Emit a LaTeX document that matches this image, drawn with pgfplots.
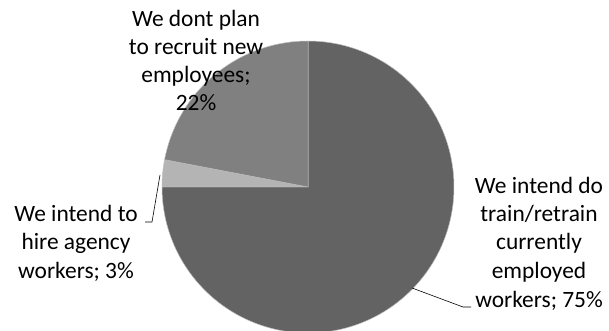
\documentclass[border=0pt]{standalone}
\usepackage{pgfplots}
\pgfplotsset{compat=1.18}
\usepackage{fontspec}
\setmainfont{Carlito}
\definecolor{pieDark}{HTML}{636363}
\definecolor{pieMid}{HTML}{808080}
\definecolor{pieLight}{HTML}{B4B4B4}
\definecolor{pieEdge}{HTML}{BEBEBE}
% shares (percent): trained staff, agency workers, no recruitment
\def\shareA{75}
\def\shareB{3}
\def\shareC{22}
\begin{document}
\begin{tikzpicture}
\begin{axis}[at={(0,0)}, anchor=south west, scale only axis,
  width=609bp, height=331bp, xmin=0, xmax=609, ymin=0, ymax=331,
  hide axis, clip=false]
\pgfmathsetmacro{\aA}{90}
\pgfmathsetmacro{\aB}{90-3.6*\shareA}
\pgfmathsetmacro{\aC}{\aB-3.6*\shareB}
\pgfmathsetmacro{\aD}{\aC-3.6*\shareC}
\addplot[fill=pieDark, draw=pieEdge, line width=0.5pt, domain=\aB:\aA, samples=150, variable=\t]
  ({308+146*cos(\t)},{144+146*sin(\t)}) -- (axis cs:308,144) -- cycle;
\addplot[fill=pieLight, draw=pieEdge, line width=0.5pt, domain=\aC:\aB, samples=20, variable=\t]
  ({308+146*cos(\t)},{144+146*sin(\t)}) -- (axis cs:308,144) -- cycle;
\addplot[fill=pieMid, draw=pieEdge, line width=0.5pt, domain=\aD:\aC, samples=60, variable=\t]
  ({308+146*cos(\t)},{144+146*sin(\t)}) -- (axis cs:308,144) -- cycle;
% leader lines
\addplot[black, line width=0.6pt] coordinates {(412,43) (463,24) (471,24)};
\addplot[black, line width=0.6pt] coordinates {(145,109) (152,109) (160,156)};
% labels
\begin{scope}[every node/.style={anchor=base, inner sep=0pt, font=\fontsize{23.5}{28}\selectfont}]
\node at (axis cs:196,304) {We dont plan};
\node at (axis cs:196,276) {to recruit new};
\node at (axis cs:196,248) {employees;};
\node at (axis cs:196,220) {22\%};
\node at (axis cs:76,109) {We intend to};
\node at (axis cs:76,81) {hire agency};
\node at (axis cs:76,53) {workers; 3\%};
\node at (axis cs:539,137) {We intend do};
\node at (axis cs:539,109) {train/retrain};
\node at (axis cs:539,81) {currently};
\node at (axis cs:539,53) {employed};
\node at (axis cs:539,24) {workers; 75\%};
\end{scope}
\end{axis}
\pgfresetboundingbox
\path[use as bounding box] (0,0) rectangle (609bp,331bp);
\end{tikzpicture}
\end{document}
